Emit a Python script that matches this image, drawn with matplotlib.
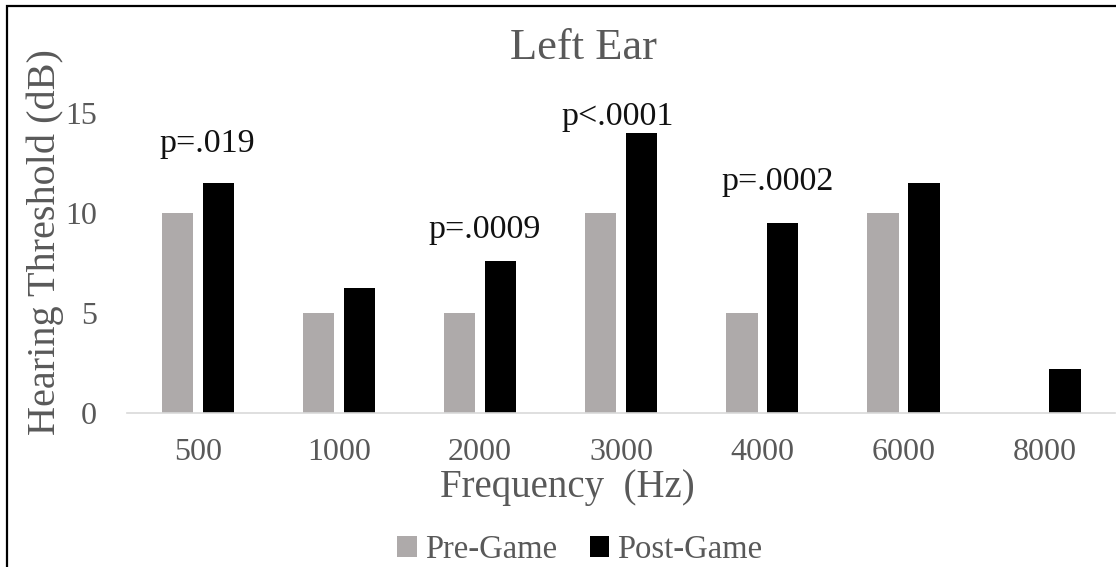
import matplotlib
matplotlib.use("Agg")
import matplotlib.pyplot as plt
from matplotlib.patches import Rectangle, Patch
import numpy as np

plt.rcParams['font.family'] = ['Liberation Serif', 'DejaVu Serif']

categories = ["500", "1000", "2000", "3000", "4000", "6000", "8000"]
pre_game = [10, 5, 5, 10, 5, 10, 0]
post_game = [11.5, 6.25, 7.6, 14.0, 9.5, 11.5, 2.2]
p_labels = ["p=.019", "p=.0009", "p<.0001", "p=.0002"]
p_cats = ["500", "2000", "3000", "4000"]
p_x_off = [0.064, 0.035, -0.025, 0.11]
p_y = [13.05, 8.72, 14.38, 11.13]

gray = "#AEAAAA"
black = "#000000"
txt = "#595959"

fig = plt.figure(figsize=(11.16, 5.67), dpi=100)
ax = fig.add_axes([127.4/1116, 1-412.7/567, (1115-127.4)/1116, 300/567])

x = np.arange(len(categories))
w = 0.223
off = 0.145
ax.bar(x - off, pre_game, w, color=gray, label="Pre-Game")
ax.bar(x + off, post_game, w, color=black, label="Post-Game")

ax.set_xlim(-0.5, len(categories) - 0.5)
ax.set_ylim(0, 15)
ax.set_yticks([0, 5, 10, 15])
ax.set_xticks(x)
ax.set_xticklabels(categories)
for s in ["top", "right", "left"]:
    ax.spines[s].set_visible(False)
ax.spines["bottom"].set_color("#D9D9D9")
ax.spines["bottom"].set_linewidth(1.2)
ax.tick_params(axis="both", length=0, labelsize=23, colors=txt)
ax.tick_params(axis="x", pad=18)
ax.tick_params(axis="y", pad=22)

for lab, c, dx, yy in zip(p_labels, p_cats, p_x_off, p_y):
    i = categories.index(c)
    ax.text(i + dx, yy, lab, ha="center", va="baseline", fontsize=24.5, color="#111111")

fig.text(583/1116, 1-48/567, "Left Ear", ha="center", va="center", fontsize=32, color=txt)
fig.text(567/1116, 1-487/567, "Frequency  (Hz)", ha="center", va="center", fontsize=28, color=txt)
fig.text(45/1116, 1-242/567, "Hearing Threshold (dB)", ha="center", va="center",
         rotation=90, fontsize=29, color=txt)

handles = [Patch(facecolor=gray, edgecolor="none", label="Pre-Game"),
           Patch(facecolor=black, edgecolor="none", label="Post-Game")]
leg = fig.legend(handles=handles, loc="center", bbox_to_anchor=(580/1116, 1-550/567),
                 ncol=2, frameon=False, fontsize=23.5, handlelength=0.6, handleheight=0.6,
                 handletextpad=0.25, columnspacing=1.0, borderpad=0, labelcolor=txt)

fig.patches.append(Rectangle((7/1116, -0.1), 1.2, 1 - 6/567 + 0.1, transform=fig.transFigure,
                             fill=False, edgecolor="black", linewidth=1.6, figure=fig))

fig.savefig("out.png", dpi=100)
